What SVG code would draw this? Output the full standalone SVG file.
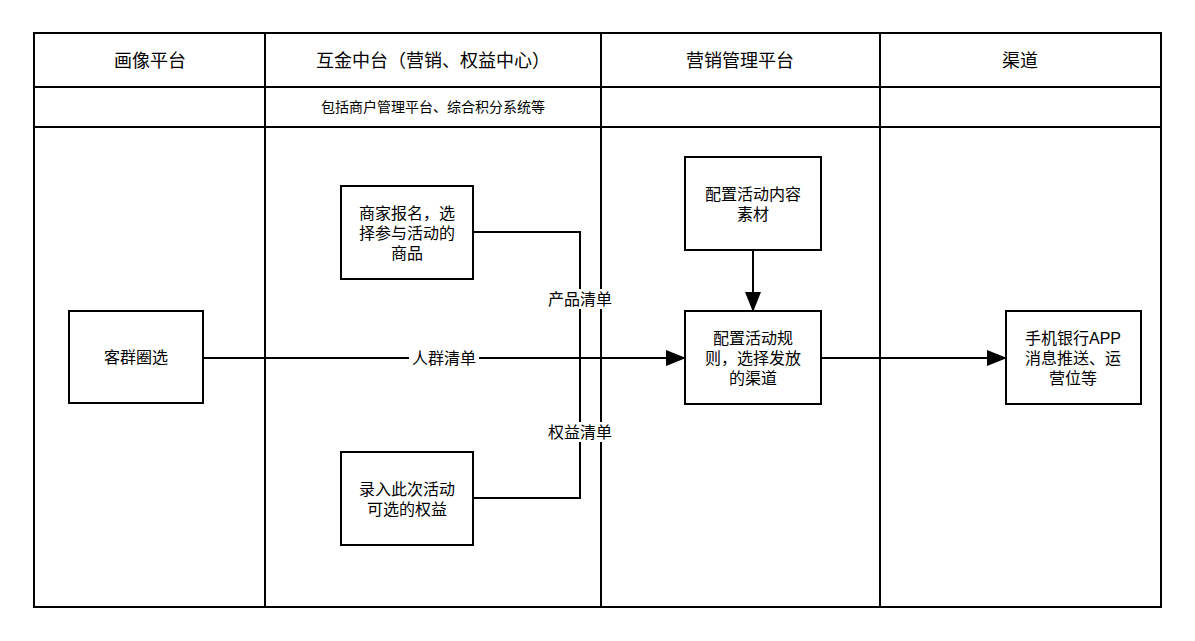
<svg xmlns="http://www.w3.org/2000/svg" width="1195" height="641" viewBox="0 0 1195 641">
<style>
.f{fill:none;stroke:#000;stroke-width:2}
.n{fill:#fff;stroke:#000;stroke-width:2}
.t{font-family:"Liberation Sans","Noto Sans CJK SC",sans-serif;font-size:16px;fill:#000;text-anchor:middle}
.h{font-size:18px}
.s{font-size:14px}
.c{fill:none;stroke:#000;stroke-width:2}
.lb{fill:#fff}
</style>
<defs>
<marker id="a" markerWidth="10" markerHeight="8" refX="9" refY="4" orient="auto" markerUnits="userSpaceOnUse" viewBox="0 0 10 8">
<path d="M0,0 L10,4 L0,8 Z" fill="#000"/>
</marker>
<marker id="b" viewBox="0 0 20 16" markerWidth="20" markerHeight="16" refX="19" refY="8" orient="auto" markerUnits="userSpaceOnUse"><path d="M0,0 L20,8 L0,16 Z" fill="#000"/></marker>
</defs>
<rect width="1195" height="641" fill="#fff"/>
<g id="frame">
<rect class="f" x="34" y="33" width="1127" height="574"/>
<line class="f" x1="34" y1="87" x2="1161" y2="87"/>
<line class="f" x1="34" y1="127" x2="1161" y2="127"/>
<line class="f" x1="265" y1="33" x2="265" y2="607"/>
<line class="f" x1="601" y1="33" x2="601" y2="607"/>
<line class="f" x1="880" y1="33" x2="880" y2="607"/>
<text class="t h" x="150" y="67">画像平台</text>
<text class="t h" x="433" y="67">互金中台（营销、权益中心）</text>
<text class="t h" x="740" y="67">营销管理平台</text>
<text class="t h" x="1020" y="67">渠道</text>
<text class="t s" x="433" y="112">包括商户管理平台、综合积分系统等</text>
</g>
<g id="connectors">
<path class="c" d="M203,358 H685" marker-end="url(#b)"/>
<path class="c" d="M473,232 H580 V358"/>
<path class="c" d="M473,498 H580 V358"/>
<path class="c" d="M753,250 V311" marker-end="url(#b)"/>
<path class="c" d="M821,358 H1006" marker-end="url(#b)"/>
<rect class="lb" x="409" y="348" width="70" height="20"/>
<text class="t" x="444" y="364">人群清单</text>
<rect class="lb" x="545" y="289" width="70" height="20"/>
<text class="t" x="580" y="305">产品清单</text>
<rect class="lb" x="545" y="422" width="70" height="20"/>
<text class="t" x="580" y="438">权益清单</text>
</g>
<g id="n1"><rect class="n" x="69" y="311" width="134" height="92"/><text class="t" x="136" y="363">客群圈选</text></g>
<g id="n2"><rect class="n" x="341" y="186" width="132" height="93"/><text class="t" x="407" y="219">商家报名，选</text><text class="t" x="407" y="239">择参与活动的</text><text class="t" x="407" y="259">商品</text></g>
<g id="n3"><rect class="n" x="341" y="452" width="132" height="93"/><text class="t" x="407" y="495">录入此次活动</text><text class="t" x="407" y="515">可选的权益</text></g>
<g id="n4"><rect class="n" x="685" y="157" width="136" height="93"/><text class="t" x="753" y="200">配置活动内容</text><text class="t" x="753" y="220">素材</text></g>
<g id="n5"><rect class="n" x="685" y="311" width="136" height="93"/><text class="t" x="753" y="344">配置活动规</text><text class="t" x="753" y="364">则，选择发放</text><text class="t" x="753" y="384">的渠道</text></g>
<g id="n6"><rect class="n" x="1006" y="311" width="135" height="93"/><text class="t" x="1073" y="344">手机银行APP</text><text class="t" x="1073" y="364">消息推送、运</text><text class="t" x="1073" y="384">营位等</text></g>
</svg>
